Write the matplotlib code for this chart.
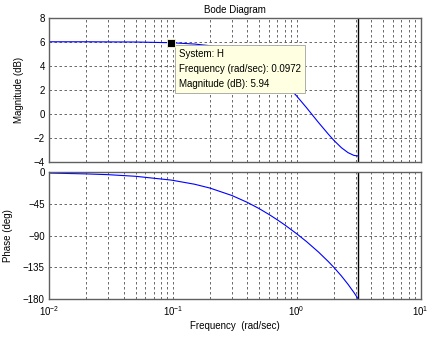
import numpy as np
import matplotlib
matplotlib.use('Agg')
import matplotlib.pyplot as plt
from matplotlib.ticker import LogLocator, FixedLocator

# values
freq = [0.01, 0.02, 0.03, 0.05, 0.0972, 0.15, 0.2, 0.3, 0.4, 0.5, 0.6, 0.7,
        0.8, 1.0, 1.2, 1.5, 1.8, 2.0, 2.3, 2.6, 2.9, 3.1416]
mag_db = [6.02, 6.02, 6.01, 6.00, 5.94, 5.83, 5.69, 5.31, 4.83, 4.29, 3.72, 3.14,
          2.57, 1.49, 0.52, -0.72, -1.69, -2.22, -2.83, -3.24, -3.47, -3.52]
phase_deg = [-1.1, -2.3, -3.4, -5.7, -11.1, -17.0, -22.5, -33.0, -42.8, -51.8, -60.1, -67.7,
             -74.7, -87.3, -98.4, -113.3, -126.8, -135.2, -147.4, -159.2, -170.8, -180.0]
nyquist = 3.1416
tip_freq = 0.0972
tip_mag = 5.94
mag_ticks = [-4, -2, 0, 2, 4, 6, 8]
phase_ticks = [-180, -135, -90, -45, 0]

plt.rcParams['font.family'] = ['Liberation Sans', 'DejaVu Sans']
plt.rcParams['font.size'] = 7
plt.rcParams['mathtext.fontset'] = 'custom'
plt.rcParams['mathtext.rm'] = 'Liberation Sans'
plt.rcParams['mathtext.it'] = 'Liberation Sans'
plt.rcParams['mathtext.default'] = 'regular'

fig = plt.figure(figsize=(4.32, 3.37), dpi=100)
fig.patch.set_facecolor('white')
ax_mag = fig.add_axes([0.1134, 0.520, 0.860, 0.4264])
ax_ph = fig.add_axes([0.1134, 0.1128, 0.860, 0.376], sharex=ax_mag)

grid_kw = dict(color='#505050', linestyle=(0, (3, 3)), linewidth=0.6)
for ax in (ax_mag, ax_ph):
  ax.set_xscale('log')
  ax.set_xlim(0.01, 10)
  ax.xaxis.set_major_locator(LogLocator(base=10, numticks=10))
  ax.xaxis.set_minor_locator(LogLocator(base=10, subs=np.arange(2, 10), numticks=100))
  ax.grid(True, which='both', axis='x', **grid_kw)
  ax.grid(True, which='major', axis='y', **grid_kw)
  ax.tick_params(which='both', length=0, colors='black', pad=3)
  ax.tick_params(axis='x', pad=4)
  for sp in ax.spines.values():
    sp.set_color('#606060')
    sp.set_linewidth(1.0)
  ax.axvline(nyquist, color='black', linewidth=1.0)

# magnitude
ax_mag.plot(freq, mag_db, color='#0000ff', linewidth=0.8)
ax_mag.set_ylim(-4, 8)
ax_mag.yaxis.set_major_locator(FixedLocator(mag_ticks))
ax_mag.set_ylabel('Magnitude (dB)')
ax_mag.yaxis.set_label_coords(-0.067, 0.5)
ax_mag.set_title('Bode Diagram', fontsize=7, pad=4)
plt.setp(ax_mag.get_xticklabels(), visible=False)

ax_mag.plot([tip_freq], [tip_mag], 's', color='black', markersize=5.5,
            markeredgecolor='#ffffe1', markeredgewidth=0.6, zorder=7)
ax_mag.annotate('System: H\nFrequency (rad/sec): {}\nMagnitude (dB): {}'.format(tip_freq, tip_mag),
                xy=(tip_freq, tip_mag), xytext=(5.3, -4.6), textcoords='offset points',
                ha='left', va='top', fontsize=7, linespacing=1.6,
                bbox=dict(boxstyle='square,pad=0.4', facecolor='#ffffe1',
                          edgecolor='#a0a0a0', linewidth=0.6), zorder=6)

# phase
ax_ph.plot(freq, phase_deg, color='#0000ff', linewidth=0.8)
ax_ph.set_ylim(-180, 0)
ax_ph.yaxis.set_major_locator(FixedLocator(phase_ticks))
ax_ph.set_ylabel('Phase (deg)')
ax_ph.yaxis.set_label_coords(-0.097, 0.5)
ax_ph.set_xlabel('Frequency  (rad/sec)', labelpad=2)

fig.savefig('out.png', dpi=100, facecolor='white')
